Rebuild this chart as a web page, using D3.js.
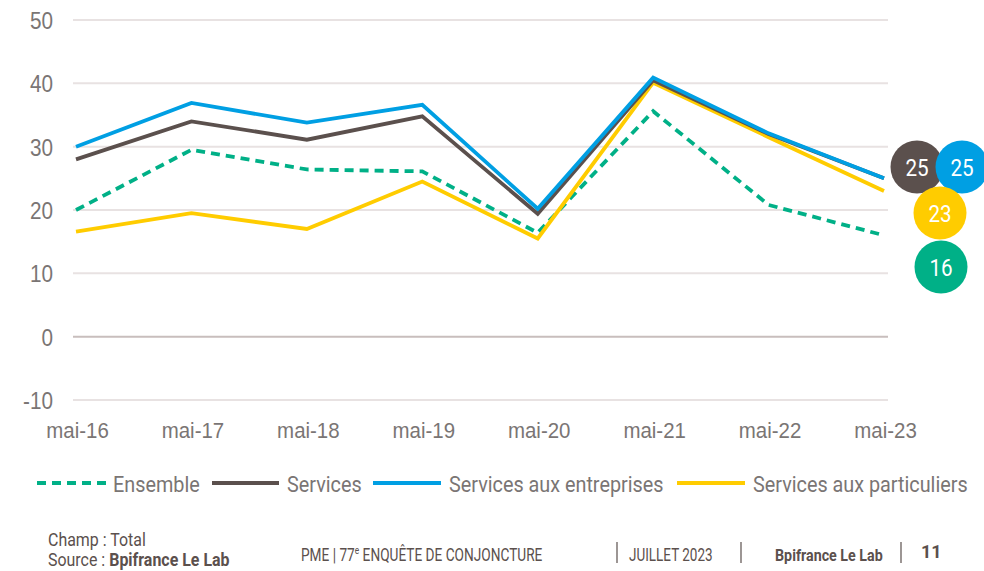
<!DOCTYPE html>
<html><head><meta charset="utf-8">
<script src="https://cdn.jsdelivr.net/npm/d3@7"></script>
<style>
body{margin:0;background:#fff;}
svg{display:block;font-family:"Roboto","Liberation Sans",sans-serif;}
</style></head>
<body><svg id="c" width="984" height="571"></svg>
<script>
const categories = ["mai-16","mai-17","mai-18","mai-19","mai-20","mai-21","mai-22","mai-23"];
const ensemble = [20, 29.5, 26.4, 26.1, 16.4, 35.6, 20.8, 16];
const services = [28, 34, 31.1, 34.8, 19.4, 40.5, 32, 25];
const servicesEntreprises = [30, 36.9, 33.8, 36.6, 20.2, 40.9, 32.1, 25];
const servicesParticuliers = [16.6, 19.5, 17, 24.5, 15.5, 40.1, 31.5, 23];
const seriesNames = ["Ensemble","Services","Services aux entreprises","Services aux particuliers"];
const yTicks = [-10,0,10,20,30,40,50];
const badgeValues = [25, 25, 23, 16];

const colors = {"Ensemble":"#00b087","Services":"#5b504d","Services aux entreprises":"#009fe3","Services aux particuliers":"#ffcc00"};
const series = [
  {name:seriesNames[0], values:ensemble, dash:"9,6"},
  {name:seriesNames[1], values:services, dash:null},
  {name:seriesNames[2], values:servicesEntreprises, dash:null},
  {name:seriesNames[3], values:servicesParticuliers, dash:null}
];

function condense(sel, f){
  sel.each(function(){
    const w = this.getComputedTextLength();
    d3.select(this).attr("textLength", w*f).attr("lengthAdjust","spacingAndGlyphs");
  });
}

const svg = d3.select("#c");
const x = d3.scalePoint().domain(categories).range([76, 884]);
const y = d3.scaleLinear().domain([-10, 50]).range([400, 20]);
const gridX0 = 73, gridX1 = 888;
const textGray = "#7a7574";

// grid
svg.append("g").selectAll("line").data(yTicks).join("line")
  .attr("x1", gridX0).attr("x2", gridX1)
  .attr("y1", d => y(d)).attr("y2", d => y(d))
  .attr("stroke", d => d === 0 ? "#c8bebd" : "#e8e2e2").attr("stroke-width", 2);

// y axis labels
const yAxis = d3.axisLeft(y).tickValues(yTicks).tickSize(0).tickPadding(0).tickFormat(d => String(d));
const gy = svg.append("g").attr("transform", "translate(53,1)").call(yAxis);
gy.select(".domain").remove();
gy.selectAll("text").attr("font-size", 23).attr("fill", textGray).attr("font-family", "inherit");
condense(gy.selectAll("text"), 0.9);

// x axis labels
const xAxis = d3.axisBottom(x).tickSize(0).tickPadding(0);
const gx = svg.append("g").attr("transform", "translate(1,422)").call(xAxis);
gx.select(".domain").remove();
gx.selectAll("text").attr("font-size", 22).attr("fill", textGray).attr("font-family", "inherit");
condense(gx.selectAll("text"), 0.93);

// lines
const line = d3.line().x((d, i) => x(categories[i])).y(d => y(d));
const drawOrder = [series[0], series[3], series[1], series[2]];
svg.append("g").selectAll("path").data(drawOrder).join("path")
  .attr("d", d => line(d.values))
  .attr("fill", "none")
  .attr("stroke", d => colors[d.name])
  .attr("stroke-width", 3.8)
  .attr("stroke-linejoin", "miter")
  .attr("stroke-dasharray", d => d.dash);

// badges
const badges = [
  {name:seriesNames[1], v:badgeValues[0], cx:917, cy:167},
  {name:seriesNames[2], v:badgeValues[1], cx:962, cy:167},
  {name:seriesNames[3], v:badgeValues[2], cx:940, cy:213},
  {name:seriesNames[0], v:badgeValues[3], cx:941, cy:267}
];
const bg = svg.append("g").selectAll("g").data(badges).join("g")
  .attr("transform", d => `translate(${d.cx},${d.cy})`);
bg.append("circle").attr("r", 26.5).attr("fill", d => colors[d.name]);
const bt = bg.append("text").text(d => d.v).attr("text-anchor", "middle").attr("dy", "0.36em")
  .attr("fill", "#fff").attr("font-size", 24);
condense(bt, 0.86);

// legend
const legend = [
  {name:seriesNames[0], x1:37, x2:107, tx:113},
  {name:seriesNames[1], x1:212, x2:279, tx:287},
  {name:seriesNames[2], x1:373, x2:441, tx:449},
  {name:seriesNames[3], x1:677, x2:745, tx:753}
];
const lg = svg.append("g").selectAll("g").data(legend).join("g");
lg.append("line").attr("x1", d => d.x1).attr("x2", d => d.x2).attr("y1", 483).attr("y2", 483)
  .attr("stroke", d => colors[d.name]).attr("stroke-width", 3.8)
  .attr("stroke-dasharray", d => d.name === "Ensemble" ? "9,6" : null);
const lt = lg.append("text").attr("x", d => d.tx).attr("y", 492)
  .attr("font-size", 22).attr("fill", textGray).text(d => d.name);
condense(lt, 0.9);

// footer
const footColor = "#5b504d";
const ft = svg.append("g").attr("fill", footColor);
const champ = ft.append("g").attr("transform", "translate(48,546) scale(0.84,1)");
champ.append("text").attr("font-size", 19).text("Champ : Total");
const srcG = ft.append("g").attr("transform", "translate(48,566) scale(0.84,1)");
const src = srcG.append("text").attr("font-size", 19);
src.append("tspan").text("Source : ");
src.append("tspan").attr("font-weight", "bold").text("Bpifrance Le Lab");
const pmeG = ft.append("g").attr("transform", "translate(301,561) scale(0.76,1)");
const pme = pmeG.append("text").attr("font-size", 18);
pme.append("tspan").text("PME  |  77");
pme.append("tspan").attr("font-size", 11).attr("dy", -7).text("e");
pme.append("tspan").attr("dy", 7).text(" ENQUÊTE DE CONJONCTURE");
[617, 741, 901].forEach(xx => ft.append("line").attr("x1", xx).attr("x2", xx).attr("y1", 542).attr("y2", 563)
  .attr("stroke", footColor).attr("stroke-width", 1.2));
ft.append("g").attr("transform", "translate(629,561) scale(0.75,1)")
  .append("text").attr("font-size", 18).text("JUILLET 2023");
ft.append("g").attr("transform", "translate(775,561) scale(0.84,1)")
  .append("text").attr("font-size", 17).attr("font-weight", "bold").text("Bpifrance Le Lab");
ft.append("g").attr("transform", "translate(921,558) scale(0.95,1)")
  .append("text").attr("font-size", 19).attr("font-weight", "bold").text("11");
</script></body></html>
